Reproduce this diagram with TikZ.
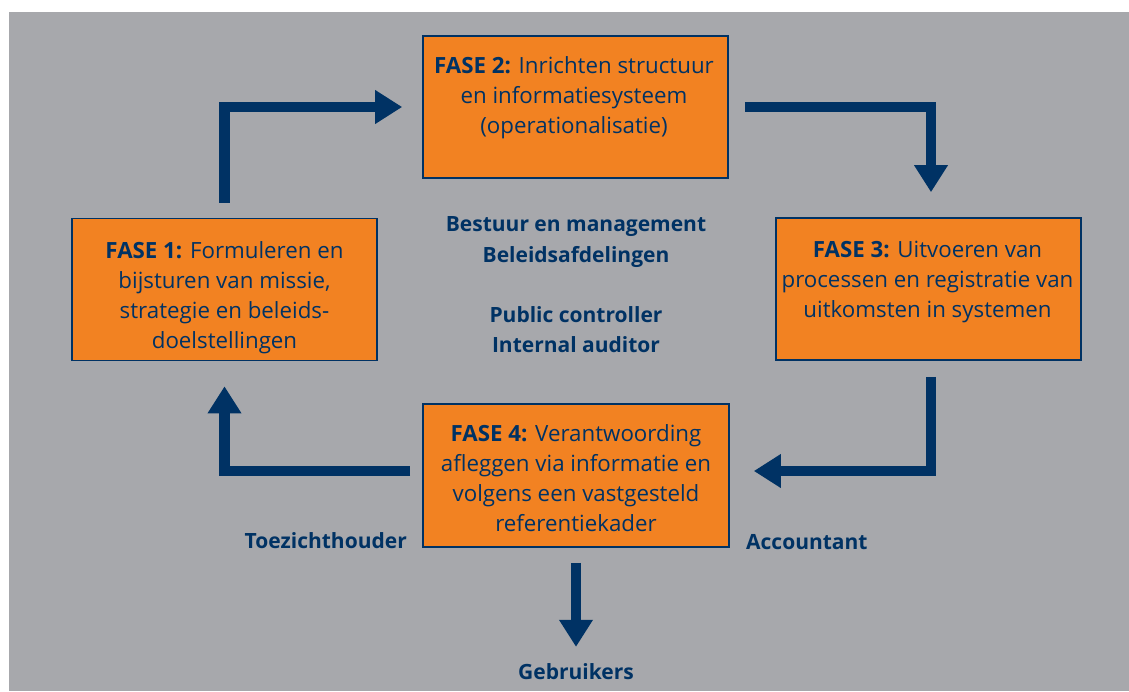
\documentclass[tikz,border=0pt]{standalone}
\usepackage{fontspec}
\setmainfont{Open Sans}
\usetikzlibrary{arrows.meta,calc}
\definecolor{bg}{RGB}{167,168,172}
\definecolor{org}{RGB}{242,130,34}
\definecolor{navy}{RGB}{0,50,100}
\begin{document}
\begin{tikzpicture}[x=1pt,y=-1pt,
  box/.style={draw=navy, line width=1.6pt, fill=org, minimum width=305pt, minimum height=142pt, inner sep=0pt},
  boxtxt/.style={text=navy, font=\fontsize{22.3}{30}\selectfont, align=center, anchor=north, inner sep=0pt},
  lbl/.style={text=navy, font=\fontsize{21}{30.5}\selectfont\bfseries, inner sep=0pt},
  flow/.style={draw=navy, line width=10.5pt, line join=miter, -{Triangle[length=27pt,width=32pt]}}]
\useasboundingbox (0,0) rectangle (1129,691);
\fill[bg] (9,12) rectangle (1129,691);
% boxes
\node[box] (f1) at (224.5,289.5) {};
\node[box] (f2) at (575.5,107) {};
\node[box] (f3) at (928.5,289) {};
\node[box, minimum width=306pt, minimum height=143pt] (f4) at (576,475.5) {};
% box texts
\node[boxtxt] (t1) at (224.5,241) {\textbf{FASE 1:} Formuleren en\\bijsturen van missie,\\strategie en beleids-\\doelstellingen};
\node[boxtxt] (t2) at (574,56) {\textbf{FASE 2:} Inrichten structuur\\en informatiesysteem\\(operationalisatie)};
\node[boxtxt] (t3) at (927.5,241) {\textbf{FASE 3:} Uitvoeren van\\processen en registratie van\\uitkomsten in systemen};
\node[boxtxt] (t4) at (576,424) {\textbf{FASE 4:} Verantwoording\\afleggen via informatie en\\volgens een vastgesteld\\referentiekader};
% centre texts
\node[lbl, align=center, anchor=north] (mid) at (576,216.5) {Bestuur en management\\Beleidsafdelingen\\[29.5pt]Public controller\\Internal auditor};
% side labels
\node[lbl, anchor=base east] (toez) at (407,548) {Toezichthouder};
\node[lbl, anchor=base west] (acc) at (746,549) {Accountant};
\node[lbl, anchor=base] (geb) at (576,679) {Gebruikers};
% arrows
\draw[flow, shorten <=15pt, shorten >=20pt] (f1.north) |- (f2.west);
\draw[flow, shorten <=16pt, shorten >=25pt] (f2.east) -| ([xshift=2.5pt]f3.north);
\draw[flow, shorten <=16pt, shorten >=24pt] ([xshift=2.5pt]f3.south) |- ([yshift=4.5pt]f4.east);
\draw[flow, shorten <=12pt, shorten >=25pt] ([yshift=4.5pt]f4.west) -| (f1.south);
\draw[flow, shorten <=15pt, shorten >=16pt] (f4.south) -- (geb.north);
\end{tikzpicture}
\end{document}
